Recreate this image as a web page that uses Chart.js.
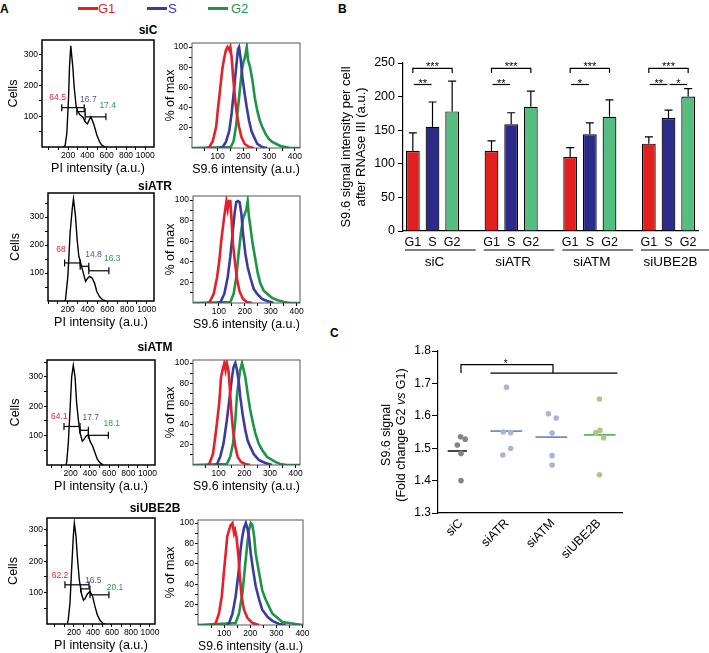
<!DOCTYPE html>
<html>
<head>
<meta charset="utf-8">
<title>S9.6 signal across the cell cycle</title>
<script src="https://cdn.jsdelivr.net/npm/chart.js@4.4.1/dist/chart.umd.min.js"></script>
<style>
  body { margin: 0; background: #fff; }
  #fig { position: relative; width: 709px; height: 653px; overflow: hidden; font-family: "Liberation Sans", Arial, sans-serif; }
  #fig canvas { position: absolute; }
  .t { position: absolute; white-space: nowrap; line-height: 1; }
  .letter { font-weight: bold; font-size: 12px; }
  .row { font-weight: bold; font-size: 12px; transform: translateX(-50%); }
  .key { position: absolute; height: 3px; width: 20px; }
</style>
</head>
<body>
<div id="fig">
  <div class="t letter" style="left:0px;top:3px">A</div>
  <div class="t letter" style="left:338px;top:3px">B</div>
  <div class="t letter" style="left:330px;top:327px">C</div>

  <div class="key" style="left:78px;top:7px;background:#e5202a"></div>
  <div class="t" style="left:98px;top:2px;font-size:13px;color:#e5202a">G1</div>
  <div class="key" style="left:147px;top:7px;background:#3a3c9e"></div>
  <div class="t" style="left:168px;top:2px;font-size:13px;color:#3a3c9e">S</div>
  <div class="key" style="left:208px;top:7px;background:#1e9447"></div>
  <div class="t" style="left:231px;top:2px;font-size:13px;color:#1e9447">G2</div>
</div>

<script>
// ---------- panel A : PI histograms (PI intensity, cells)
let piSiC = [[150,0],[170,5],[187,44],[204,153],[215,261],[228,329],[249,261],[263,196],[284,131],[301,115],[325,104],[353,98],[377,82],[401,75],[422,90],[436,98],[457,82],[474,66],[498,39],[526,17],[550,6],[585,0]]
let piSiATR = [[170,0],[177,4],[201,88],[224,244],[245,328],[258,365],[278,304],[295,220],[312,160],[326,142],[353,106],[380,70],[403,82],[420,88],[447,82],[471,64],[494,34],[521,16],[555,4],[589,0]]
let piSiATM = [[150,0],[158,8],[175,75],[193,188],[210,300],[227,339],[245,300],[262,210],[280,153],[297,109],[321,81],[339,87],[359,98],[384,103],[401,81],[429,64],[453,42],[477,20],[505,8],[540,0]]
let piSiUBE2B = [[130,0],[140,14],[158,67],[175,173],[193,280],[204,322],[221,280],[235,216],[256,141],[281,94],[300,76],[315,80],[340,95],[368,104],[396,88],[421,56],[446,29],[474,12],[509,1],[530,0]]

// gates: [from, to, height]
let gatesSiC = [[135,367,128],[291,377,115],[377,592,98]]
let gatesSiATR = [[168,326,136],[326,413,124],[413,616,108]]
let gatesSiATM = [[130,297,131],[297,384,118],[384,592,101]]
let gatesSiUBE2B = [[105,358,125],[270,368,112],[368,568,93]]

let pctSiC = ['64.5','16.7','17.4']
let pctSiATR = ['68','14.8','16.3']
let pctSiATM = ['64.1','17.7','18.1']
let pctSiUBE2B = ['62.2','16.5','20.1']

// ---------- panel A : S9.6 histograms (% of max)
let siC_G1 = [[60,0],[68,1],[81,7],[94,21],[100,37],[106,50],[113,67],[119,80],[126,90],[132,97],[138,100],[145,97],[149,100],[154,90],[160,70],[167,50],[174,34],[183,21],[192,11],[205,4],[222,1],[241,0]]
let siC_S = [[110,0],[119,1],[132,6],[145,17],[154,34],[162,54],[168,70],[173,83],[179,98],[183,100],[190,87],[196,70],[203,57],[213,40],[222,27],[231,17],[241,11],[254,4],[273,1],[292,0]]
let siC_G2 = [[0,0],[151,1],[162,7],[171,21],[179,40],[187,60],[194,77],[200,85],[206,90],[213,100],[218,87],[226,80],[235,67],[244,50],[254,37],[264,27],[273,21],[286,14],[299,9],[312,6],[328,4],[344,2],[363,1],[382,0],[420,0]]

let siATR_G1 = [[56,0],[64,1],[80,9],[93,25],[102,42],[108,58],[116,75],[121,85],[129,99],[134,91],[139,99],[144,99],[148,85],[154,58],[161,42],[170,23],[180,11],[193,4],[208,1],[228,0]]
let siATR_S = [[98,0],[106,1],[121,9],[134,25],[144,45],[153,68],[161,88],[167,98],[174,99],[180,98],[187,86],[193,68],[202,48],[211,35],[221,25],[234,14],[247,9],[266,4],[286,2],[311,0]]
let siATR_G2 = [[0,0],[144,1],[157,9],[167,25],[176,48],[185,68],[193,82],[199,86],[206,91],[211,99],[216,84],[221,75],[230,58],[241,42],[250,29],[260,19],[273,12],[286,9],[305,5],[324,3],[350,1],[376,0],[413,0]]

let siATM_G1 = [[58,0],[65,2],[78,11],[87,28],[96,47],[103,63],[109,86],[116,94],[122,100],[127,93],[132,100],[138,93],[143,77],[149,54],[156,34],[165,18],[174,8],[187,3],[204,1],[223,0]]
let siATM_S = [[86,0],[94,1],[106,8],[119,21],[132,44],[143,67],[152,86],[158,96],[165,100],[171,94],[178,83],[184,67],[195,47],[204,34],[213,24],[223,18],[236,11],[256,5],[282,2],[308,0]]
let siATM_G2 = [[0,0],[132,1],[145,8],[156,21],[165,44],[171,67],[178,83],[184,93],[191,100],[197,94],[204,86],[213,70],[223,54],[234,41],[243,31],[256,21],[269,15],[288,8],[308,5],[321,3],[340,1],[366,0],[417,0]]

let siUBE2B_G1 = [[60,0],[68,2],[80,11],[91,28],[100,54],[106,70],[112,87],[119,93],[125,98],[132,100],[138,90],[142,93],[147,87],[155,67],[160,48],[167,28],[176,15],[189,7],[208,2],[234,0]]
let siUBE2B_S = [[110,0],[119,2],[132,11],[144,28],[155,51],[163,74],[170,87],[176,95],[183,100],[189,95],[195,87],[202,70],[211,54],[221,38],[234,25],[246,15],[266,8],[285,4],[310,1],[336,0]]
let siUBE2B_G2 = [[0,0],[144,2],[157,11],[170,31],[180,57],[189,80],[195,93],[202,100],[208,98],[215,87],[221,70],[227,61],[236,48],[246,34],[259,25],[272,18],[285,11],[304,7],[323,3],[349,2],[374,1],[400,0],[402,0]]

let piTicks = [0,100,200,300,400,500,600,700,800,900,1000]
let piTickLabels = [200,400,600,800,1000]
let cellTicks = [50,100,150,200,250,300,350]
let cellTickLabels = [100,200,300]
let s96Ticks = [50,100,150,200,250,300,350,400]
let s96TickLabels = [100,200,300,400]
let pctTicks = [10,20,30,40,50,60,70,80,90,100]
let pctTickLabels = [20,40,60,80,100]

// ---------- panel B : S9.6 signal per cell after RNAse III
let groups = ['siC','siATR','siATM','siUBE2B']
let phases = ['G1','S','G2']
let g1Mean = [119,119,110,130]
let sMean = [155,159,144,168]
let g2Mean = [178,185,170,200]
let g1Sd = [27,15,14,10]
let sSd = [37,17,17,12]
let g2Sd = [45,23,25,12]
let barTicks = [0,50,100,150,200,250]
// [group, phase a, phase b, stars]
let sigTests = [[0,0,2,'***'],[0,0,1,'**'],[1,0,2,'***'],[1,0,1,'**'],[2,0,2,'***'],[2,0,1,'*'],[3,0,2,'***'],[3,0,1,'**'],[3,1,2,'*']]

// ---------- panel C : fold change G2 vs G1
let foldGroups = ['siC','siATR','siATM','siUBE2B']
let foldSiC = [1.535,1.528,1.51,1.484,1.40]
let foldSiATR = [1.688,1.55,1.548,1.499,1.479]
let foldSiATM = [1.606,1.593,1.547,1.477,1.448]
let foldSiUBE2B = [1.652,1.555,1.548,1.532,1.418]

// ===================================================================
Chart.defaults.font.family = '"Liberation Sans", Arial, Helvetica, sans-serif'
Chart.defaults.color = '#000'

const RED = '#e5202a', BLUE = '#3a3c9e', GREEN = '#1e9447'
const fig = document.getElementById('fig')

function addCanvas(id, left, top, w, h) {
    const c = document.createElement('canvas')
    c.id = id
    c.width = w
    c.height = h
    c.style.left = left + 'px'
    c.style.top = top + 'px'
    fig.appendChild(c)
    return c
}

function addText(txt, cls, left, top) {
    const d = document.createElement('div')
    d.className = 't ' + cls
    d.style.left = left + 'px'
    d.style.top = top + 'px'
    d.textContent = txt
    fig.appendChild(d)
}

function boxPlugin(color, width) {
    return {
        id: 'box',
        afterDraw(chart) {
            const a = chart.chartArea, ctx = chart.ctx
            ctx.save()
            ctx.strokeStyle = color
            ctx.lineWidth = width
            ctx.strokeRect(a.left, a.top, a.right - a.left, a.bottom - a.top)
            ctx.restore()
        }
    }
}

// text written at data coordinates
function textMarks(items) {
    return {
        id: 'textMarks',
        afterDatasetsDraw(chart) {
            const { ctx, scales: { x, y } } = chart
            ctx.save()
            ctx.textAlign = 'center'
            ctx.textBaseline = 'middle'
            items.forEach(m => {
                ctx.font = m.font
                ctx.fillStyle = m.color
                ctx.fillText(m.text, x.getPixelForValue(m.x), y.getPixelForValue(m.y))
            })
            ctx.restore()
        }
    }
}

function curve(pts, color, w) {
    return { data: pts.map(p => ({ x: p[0], y: p[1] })), showLine: true, borderColor: color, borderWidth: w, pointRadius: 0, fill: false }
}

function gate(g) {
    return {
        data: [{ x: g[0], y: g[2] }, { x: g[1], y: g[2] }], showLine: true,
        borderColor: '#000', borderWidth: 1.2,
        pointStyle: 'line', pointRotation: 90, pointRadius: 3.5,
        pointBorderColor: '#000', pointBorderWidth: 1.2
    }
}

function flowAxis(c, size, dir) {
    return {
        type: 'linear', min: c.min, max: c.max,
        afterFit: s => { if (dir === 'x') s.height = size; else s.width = size },
        afterBuildTicks: s => { s.ticks = c.ticks.filter(v => v >= c.min && v <= c.max).map(v => ({ value: v })) },
        ticks: { autoSkip: false, maxRotation: 0, padding: 1, font: { size: 8.5 }, callback: v => c.labels.includes(v) ? String(v) : '' },
        grid: { drawOnChartArea: false, color: '#000', tickLength: 3 },
        border: { display: false },
        title: { display: true, text: c.title, font: { size: 12.5 }, padding: dir === 'x' ? { top: 0, bottom: 4 } : { top: 4, bottom: 0 } }
    }
}

function flowChart(id, box, titleX, xCfg, yCfg, datasets, marks, frameColor, frameW) {
    const [l, t, r, b] = box
    const cl = Math.round(titleX - 11.5)
    const padL = l - cl, padT = 8, padR = 14, padB = 33
    const canvas = addCanvas(id, cl, t - padT, r - cl + padR, b - t + padT + padB)
    return new Chart(canvas, {
        type: 'scatter',
        data: { datasets: datasets },
        options: {
            responsive: false, animation: false, events: [],
            layout: { padding: { top: padT, right: padR, left: 0, bottom: 0 } },
            plugins: { legend: { display: false }, tooltip: { enabled: false } },
            scales: { x: flowAxis(xCfg, padB, 'x'), y: flowAxis(yCfg, padL, 'y') }
        },
        plugins: [boxPlugin(frameColor, frameW), textMarks(marks)]
    })
}

// layout of the four rows of panel A (page pixels, label spots in data units)
const flowLayout = [
    { titleX: 148, titleY: 24, pi: [42, 40, 154, 147], piX: [-70, 1090], piYMax: 348, cellsX: 13,
      s96: [192, 43, 300, 148], s96X: [0, 420], s96YMax: 104, pctX: 170, textAt: [[92, 160], [410, 155], [610, 135]] },
    { titleX: 155, titleY: 180, pi: [48, 193, 154, 301], piX: [0, 1073], piYMax: 386, cellsX: 15,
      s96: [193, 196, 300, 303], s96X: [0, 413], s96YMax: 104, pctX: 170, textAt: [[132, 182], [460, 166], [650, 152]] },
    { titleX: 155, titleY: 341, pi: [47, 360, 155, 465], piX: [-47, 1078], piYMax: 357, cellsX: 15,
      s96: [193, 360, 300, 465], s96X: [0, 417], s96YMax: 103, pctX: 170, textAt: [[82, 165], [408, 160], [627, 139]] },
    { titleX: 155, titleY: 502, pi: [47, 518, 155, 624], piX: [-84, 1053], piYMax: 338, cellsX: 13,
      s96: [198, 520, 303, 625], s96X: [0, 402], s96YMax: 103, pctX: 170, textAt: [[53, 153], [403, 139], [632, 117]] }
]

const piCurves = [piSiC, piSiATR, piSiATM, piSiUBE2B]
const gateSets = [gatesSiC, gatesSiATR, gatesSiATM, gatesSiUBE2B]
const pctSets = [pctSiC, pctSiATR, pctSiATM, pctSiUBE2B]
const s96Sets = [[siC_G1, siC_S, siC_G2], [siATR_G1, siATR_S, siATR_G2], [siATM_G1, siATM_S, siATM_G2], [siUBE2B_G1, siUBE2B_S, siUBE2B_G2]]
const gateTextColors = ['#e3262f', '#4a55a8', '#2c9a4b']

flowLayout.forEach((L, i) => {
    addText(groups[i], 'row', L.titleX, L.titleY)

    const piSets = [curve(piCurves[i], '#000', 1.4)].concat(gateSets[i].map(gate))
    const marks = pctSets[i].map((p, k) => ({ text: p, x: L.textAt[k][0], y: L.textAt[k][1], color: gateTextColors[k], font: '8.5px "Liberation Sans", Arial, sans-serif' }))
    flowChart('pi' + i, L.pi, L.cellsX,
        { min: L.piX[0], max: L.piX[1], ticks: piTicks, labels: piTickLabels, title: 'PI intensity (a.u.)' },
        { min: 0, max: L.piYMax, ticks: cellTicks, labels: cellTickLabels, title: 'Cells' },
        piSets, marks, '#000', 1.5)

    const s = s96Sets[i]
    flowChart('s96' + i, L.s96, L.pctX,
        { min: L.s96X[0], max: L.s96X[1], ticks: s96Ticks, labels: s96TickLabels, title: 'S9.6 intensity (a.u.)' },
        { min: 0, max: L.s96YMax, ticks: pctTicks, labels: pctTickLabels, title: '% of max' },
        [curve(s[0], RED, 2.6), curve(s[1], BLUE, 2.6), curve(s[2], GREEN, 2.6)], [], '#555', 1)
})

// ---------- panel B
const slotLabels = [], slotMeans = [], slotSd = [], slotColors = []
const phaseColors = ['#e3201f', '#2c2b8a', '#55bd7f']
groups.forEach((g, gi) => {
    const m = [g1Mean[gi], sMean[gi], g2Mean[gi]]
    const sd = [g1Sd[gi], sSd[gi], g2Sd[gi]]
    phases.forEach((p, pi) => {
        slotLabels.push(p)
        slotMeans.push(m[pi])
        slotSd.push(sd[pi])
        slotColors.push(phaseColors[pi])
    })
    if (gi < groups.length - 1) {
        slotLabels.push('')
        slotMeans.push(null)
        slotSd.push(null)
        slotColors.push('#fff')
    }
})

const barExtras = {
    id: 'barExtras',
    afterDatasetsDraw(chart) {
        const { ctx, chartArea, scales: { x, y } } = chart
        ctx.save()
        ctx.strokeStyle = '#000'
        ctx.lineWidth = 1.2
        // error bars (upper half only)
        slotMeans.forEach((v, i) => {
            if (v === null) return
            const cx = x.getPixelForValue(i)
            const base = y.getPixelForValue(v), top = y.getPixelForValue(v + slotSd[i])
            ctx.beginPath()
            ctx.moveTo(cx, base)
            ctx.lineTo(cx, top)
            ctx.moveTo(cx - 4, top)
            ctx.lineTo(cx + 4, top)
            ctx.stroke()
        })
        // significance
        ctx.fillStyle = '#000'
        ctx.textAlign = 'center'
        ctx.textBaseline = 'alphabetic'
        ctx.font = '11px "Liberation Sans", Arial, sans-serif'
        sigTests.forEach(([g, a, b, stars]) => {
            const xa = x.getPixelForValue(g * 4 + a), xb = x.getPixelForValue(g * 4 + b)
            let yy
            ctx.beginPath()
            if (b - a === 2) {
                yy = y.getPixelForValue(242)
                const yl = y.getPixelForValue(235)
                ctx.moveTo(xa, yl)
                ctx.lineTo(xa, yy)
                ctx.lineTo(xb, yy)
                ctx.lineTo(xb, yl)
            } else {
                yy = y.getPixelForValue(218)
                ctx.moveTo(xa + 1, yy)
                ctx.lineTo(xb - 1, yy)
            }
            ctx.stroke()
            ctx.fillText(stars, (xa + xb) / 2, yy + 2)
        })
        // group underlines and names
        const w = x.getPixelForValue(1) - x.getPixelForValue(0)
        ctx.font = '13.5px "Liberation Sans", Arial, sans-serif'
        ctx.textBaseline = 'middle'
        groups.forEach((g, gi) => {
            const start = x.getPixelForValue(gi * 4) - w / 2
            ctx.beginPath()
            ctx.moveTo(start + 2, chartArea.bottom + 19)
            ctx.lineTo(start + 4 * w - 6, chartArea.bottom + 19)
            ctx.stroke()
            ctx.fillText(g, x.getPixelForValue(gi * 4 + 1) + 2, chartArea.bottom + 31)
        })
        ctx.restore()
    }
}

const bCanvas = addCanvas('barB', 335, 40, 374, 240)
new Chart(bCanvas, {
    type: 'bar',
    data: {
        labels: slotLabels,
        datasets: [{ data: slotMeans, backgroundColor: slotColors, borderColor: '#000', borderWidth: 1.2, barPercentage: 0.7, categoryPercentage: 1 }]
    },
    options: {
        responsive: false, animation: false, events: [],
        layout: { padding: { top: 23, right: 11, left: 0, bottom: 0 } },
        plugins: { legend: { display: false }, tooltip: { enabled: false } },
        scales: {
            x: {
                afterFit: s => { s.height = 49 },
                grid: { display: false, drawTicks: false },
                border: { display: true, color: '#000', width: 1.2 },
                ticks: { autoSkip: false, maxRotation: 0, padding: 4, font: { size: 12.5 } }
            },
            y: {
                min: 0, max: 250,
                afterFit: s => { s.width = 68 },
                afterBuildTicks: s => { s.ticks = barTicks.map(v => ({ value: v })) },
                ticks: { padding: 3, font: { size: 12.5 } },
                grid: { drawOnChartArea: false, color: '#000', tickLength: 5 },
                border: { color: '#000', width: 1.2 },
                title: { display: true, text: ['S9.6 signal intensity per cell', 'after RNAse III (a.u.)'], font: { size: 13, lineHeight: 1.15 }, padding: { top: 4, bottom: 0 } }
            }
        }
    },
    plugins: [barExtras]
})

// ---------- panel C
const foldSets = [foldSiC, foldSiATR, foldSiATM, foldSiUBE2B]
const dotJitter = [[-0.01, 0.09, -0.08, 0, 0], [-0.01, -0.08, 0.08, 0.08, -0.09], [-0.1, 0.07, -0.02, -0.02, -0.02], [0.01, 0.02, -0.07, 0.1, 0.01]]
const meanSpan = [[-0.29, 0.13], [-0.36, 0.33], [-0.38, 0.31], [-0.33, 0.36]]
const dotColors = ['#858585', '#aab5d6', '#aab5d6', '#a9c98c']
const meanColors = ['#1a1a1a', '#6a8fc4', '#6a8fc4', '#5db55a']

const foldDatasets = []
foldSets.forEach((vals, g) => {
    foldDatasets.push({
        data: vals.map((v, k) => ({ x: g + dotJitter[g][k], y: v })),
        pointRadius: 2.8, pointBackgroundColor: dotColors[g], pointBorderWidth: 0
    })
    const mean = vals.reduce((a, b) => a + b, 0) / vals.length
    foldDatasets.push({
        data: [{ x: g + meanSpan[g][0], y: mean }, { x: g + meanSpan[g][1], y: mean }],
        showLine: true, borderColor: meanColors[g], borderWidth: 1.6, pointRadius: 0
    })
})

const foldExtras = {
    id: 'foldExtras',
    afterDatasetsDraw(chart) {
        const { ctx, scales: { x, y } } = chart
        ctx.save()
        ctx.strokeStyle = '#000'
        ctx.lineWidth = 1.2
        const yTop = y.getPixelForValue(1.758), yLow = y.getPixelForValue(1.732)
        ctx.beginPath()
        ctx.moveTo(x.getPixelForValue(0), yLow)
        ctx.lineTo(x.getPixelForValue(0), yTop)
        ctx.lineTo(x.getPixelForValue(2), yTop)
        ctx.lineTo(x.getPixelForValue(2), yLow)
        ctx.moveTo(x.getPixelForValue(0.64), yLow)
        ctx.lineTo(x.getPixelForValue(3.4), yLow)
        ctx.stroke()
        ctx.fillStyle = '#000'
        ctx.font = '10px "Liberation Sans", Arial, sans-serif'
        ctx.textAlign = 'center'
        ctx.textBaseline = 'alphabetic'
        ctx.fillText('*', x.getPixelForValue(0.97), yTop + 2)

        // two line y title with italic "vs"
        const f = '12.5px "Liberation Sans", Arial, sans-serif'
        const fi = 'italic 12.5px "Liberation Sans", Arial, sans-serif'
        ctx.translate(12, 95)
        ctx.rotate(-Math.PI / 2)
        ctx.textBaseline = 'middle'
        ctx.font = f
        ctx.fillText('S9.6 signal', 0, 0)
        const parts = [['(Fold change G2 ', f], ['vs', fi], [' G1)', f]]
        let total = 0
        parts.forEach(p => { ctx.font = p[1]; total += ctx.measureText(p[0]).width })
        let px = -total / 2
        ctx.textAlign = 'left'
        parts.forEach(p => {
            ctx.font = p[1]
            ctx.fillText(p[0], px, 15)
            px += ctx.measureText(p[0]).width
        })
        ctx.restore()
    }
}

const cCanvas = addCanvas('foldC', 375, 340, 265, 235)
new Chart(cCanvas, {
    type: 'scatter',
    data: { datasets: foldDatasets },
    options: {
        responsive: false, animation: false, events: [],
        layout: { padding: { top: 11, right: 18, left: 0, bottom: 0 } },
        plugins: { legend: { display: false }, tooltip: { enabled: false } },
        scales: {
            x: {
                type: 'linear', min: -0.5, max: 3.5,
                afterFit: s => { s.height = 62 },
                afterBuildTicks: s => { s.ticks = foldGroups.map((g, i) => ({ value: i })) },
                ticks: { autoSkip: false, minRotation: 45, maxRotation: 45, padding: 3, font: { size: 12.5 }, callback: v => foldGroups[v] },
                grid: { display: false, drawTicks: false },
                border: { color: '#000', width: 1.2 }
            },
            y: {
                min: 1.3, max: 1.8,
                afterFit: s => { s.width = 63 },
                ticks: { stepSize: 0.1, padding: 1, font: { size: 12 }, callback: v => v.toFixed(1) },
                grid: { drawOnChartArea: false, color: '#000', tickLength: 6 },
                border: { color: '#000', width: 1.2 }
            }
        }
    },
    plugins: [foldExtras]
})
</script>
</body>
</html>
